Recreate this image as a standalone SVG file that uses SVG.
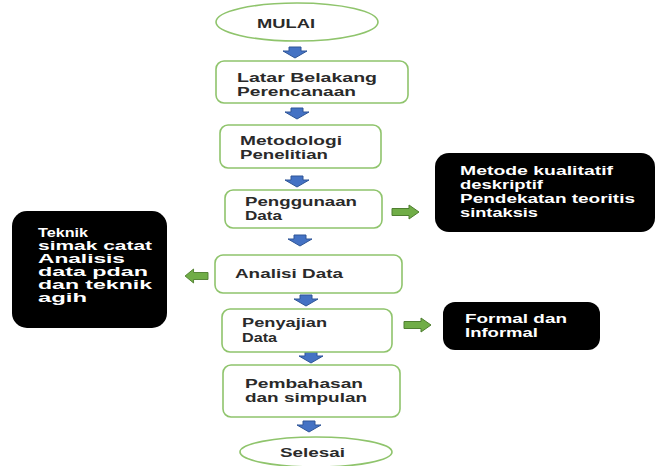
<svg xmlns="http://www.w3.org/2000/svg" width="656" height="466" viewBox="0 0 656 466">
<style>
.node{fill:#fff;stroke:#8fc46c;stroke-width:1.6}
.dark{fill:#000;stroke:none}
.t{font-family:"Liberation Sans",Arial,sans-serif;font-weight:bold;font-size:13.5px;fill:#2a2a2a}
.w{font-family:"Liberation Sans",Arial,sans-serif;font-weight:bold;font-size:13.5px;fill:#fff}
.s{font-size:12px}
.blue{fill:#4472c4;stroke:#2f5597;stroke-width:1}
.green{fill:#70ad47;stroke:#4f7f30;stroke-width:1}
</style>
<defs>
<path id="down" d="M-6,0 H6 V4 H12 L0,11 L-12,4 H-6 Z"/>
<path id="right" d="M0,-3.5 H17 V-7 L27,0 L17,7 V3.5 H0 Z"/>
</defs>
<rect width="656" height="466" fill="#fff"/>

<g id="connectors">
<use href="#down" class="blue" x="295" y="47"/>
<use href="#down" class="blue" x="297" y="108"/>
<use href="#down" class="blue" x="297" y="176"/>
<use href="#down" class="blue" x="300" y="235"/>
<use href="#down" class="blue" x="306" y="295"/>
<use href="#down" class="blue" x="311" y="352"/>
<use href="#down" class="blue" x="309" y="421"/>
<use href="#right" class="green" x="392" y="212"/>
<use href="#right" class="green" transform="translate(208,276) scale(-0.85,1)"/>
<use href="#right" class="green" x="404" y="325"/>
</g>

<g id="mulai">
<ellipse class="node" cx="297" cy="22" rx="81" ry="19"/>
<text class="t" x="257" y="28" textLength="58" lengthAdjust="spacingAndGlyphs">MULAI</text>
</g>

<g id="latar">
<rect class="node" x="216" y="61" width="192" height="42" rx="8"/>
<text class="t" x="237" y="82" textLength="140" lengthAdjust="spacingAndGlyphs">Latar Belakang</text>
<text class="t" x="237" y="96" textLength="119" lengthAdjust="spacingAndGlyphs">Perencanaan</text>
</g>

<g id="metodologi">
<rect class="node" x="220" y="125" width="161" height="43" rx="8"/>
<text class="t" x="240" y="145" textLength="102" lengthAdjust="spacingAndGlyphs">Metodologi</text>
<text class="t" x="240" y="159" textLength="88" lengthAdjust="spacingAndGlyphs">Penelitian</text>
</g>

<g id="penggunaan">
<rect class="node" x="225" y="190" width="157" height="38" rx="8"/>
<text class="t" x="245" y="206" textLength="112" lengthAdjust="spacingAndGlyphs">Penggunaan</text>
<text class="t" x="245" y="220" textLength="37" lengthAdjust="spacingAndGlyphs">Data</text>
</g>

<g id="analisi">
<rect class="node" x="215" y="255" width="187" height="38" rx="8"/>
<text class="t" x="235" y="278" textLength="108" lengthAdjust="spacingAndGlyphs">Analisi Data</text>
</g>

<g id="penyajian">
<rect class="node" x="222" y="309" width="170" height="43" rx="8"/>
<text class="t" x="242" y="327" textLength="85" lengthAdjust="spacingAndGlyphs">Penyajian</text>
<text class="t" x="242" y="342" textLength="35" lengthAdjust="spacingAndGlyphs">Data</text>
</g>

<g id="pembahasan">
<rect class="node" x="223" y="365" width="177" height="52" rx="8"/>
<text class="t" x="245" y="388" textLength="118" lengthAdjust="spacingAndGlyphs">Pembahasan</text>
<text class="t" x="245" y="402" textLength="122" lengthAdjust="spacingAndGlyphs">dan simpulan</text>
</g>

<g id="selesai">
<ellipse class="node" cx="316" cy="452" rx="76" ry="15"/>
<text class="t" x="280" y="457" textLength="65" lengthAdjust="spacingAndGlyphs">Selesai</text>
</g>

<g id="metode">
<rect class="dark" x="435" y="153" width="220" height="79" rx="14"/>
<text class="w" x="460" y="175" textLength="153" lengthAdjust="spacingAndGlyphs">Metode kualitatif</text>
<text class="w" x="460" y="189" textLength="83" lengthAdjust="spacingAndGlyphs">deskriptif</text>
<text class="w" x="460" y="203" textLength="175" lengthAdjust="spacingAndGlyphs">Pendekatan teoritis</text>
<text class="w" x="460" y="217" textLength="78" lengthAdjust="spacingAndGlyphs">sintaksis</text>
</g>

<g id="teknik">
<rect class="dark" x="12" y="211" width="155" height="117" rx="15"/>
<text class="w s" x="38" y="237" textLength="50" lengthAdjust="spacingAndGlyphs">Teknik</text>
<text class="w s" x="38" y="250" textLength="114" lengthAdjust="spacingAndGlyphs">simak catat</text>
<text class="w s" x="38" y="263" textLength="87" lengthAdjust="spacingAndGlyphs">Analisis</text>
<text class="w s" x="38" y="276" textLength="110" lengthAdjust="spacingAndGlyphs">data pdan</text>
<text class="w s" x="38" y="289" textLength="114" lengthAdjust="spacingAndGlyphs">dan teknik</text>
<text class="w s" x="38" y="302" textLength="49" lengthAdjust="spacingAndGlyphs">agih</text>
</g>

<g id="formal">
<rect class="dark" x="443" y="302" width="157" height="48" rx="12"/>
<text class="w" x="465" y="323" textLength="102" lengthAdjust="spacingAndGlyphs">Formal dan</text>
<text class="w" x="465" y="337" textLength="73" lengthAdjust="spacingAndGlyphs">Informal</text>
</g>
</svg>
